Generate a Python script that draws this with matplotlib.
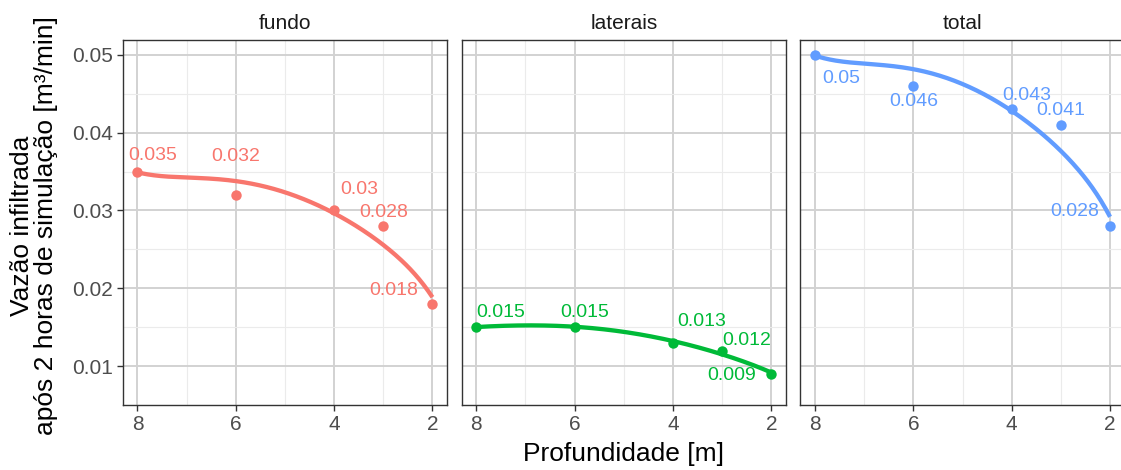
import numpy as np
import matplotlib
matplotlib.use("Agg")
import matplotlib.pyplot as plt
from matplotlib.ticker import MultipleLocator

plt.rcParams["font.family"] = ["Liberation Sans", "DejaVu Sans"]

# --- data -------------------------------------------------------------
profundidade = [8, 6, 4, 3, 2]
facetas = ["fundo", "laterais", "total"]
vazao_fundo = [0.035, 0.032, 0.030, 0.028, 0.018]
vazao_laterais = [0.015, 0.015, 0.013, 0.012, 0.009]
vazao_total = [0.050, 0.046, 0.043, 0.041, 0.028]
cores = ["#F8766D", "#00BA38", "#619CFF"]

# label offsets in pixels (dx, dy) for each point of each facet
deslocamentos = {
    "fundo":    [(15, 16), (0, 38), (25, 21), (0, 14), (-39, 13)],
    "laterais": [(24, 15), (10, 15), (29, 21), (25, 10), (-40, -2)],
    "total":    [(26, -24), (0, -16), (15, 14), (0, 14), (-35, 15)],
}


def loess(x, y, xs, alcance=1.1):
    """Local quadratic regression with tricube weights (fixed bandwidth)."""
    x = np.asarray(x, float)
    y = np.asarray(y, float)
    n = len(x)
    h = (x.max() - x.min()) * alcance
    out = np.empty(len(xs))
    for k, x0 in enumerate(xs):
        d = np.abs(x - x0)
        w = np.clip(1 - (d / h) ** 3, 0, None) ** 3
        X = np.column_stack([np.ones(n), x - x0, (x - x0) ** 2])
        sw = np.sqrt(w)
        beta = np.linalg.lstsq(X * sw[:, None], y * sw, rcond=None)[0]
        out[k] = beta[0]
    return out


series = [vazao_fundo, vazao_laterais, vazao_total]

W_PX, H_PX = 1121, 470
fig = plt.figure(figsize=(W_PX / 100, H_PX / 100), dpi=100)

paineis_x = [122.7, 461.5, 800.3]
largura = 324.5
topo, base = 40, 405

for i, (nome, vals, cor) in enumerate(zip(facetas, series, cores)):
    ax = fig.add_axes([paineis_x[i] / W_PX, (H_PX - base) / H_PX,
                       largura / W_PX, (base - topo) / H_PX])
    ax.set_xlim(8.3, 1.7)
    ax.set_ylim(0.005, 0.0519)
    ax.xaxis.set_minor_locator(MultipleLocator(1))
    ax.yaxis.set_minor_locator(MultipleLocator(0.005))
    ax.grid(which="major", color="#d2d2d2", linewidth=1.4)
    ax.grid(which="minor", color="#ebebeb", linewidth=0.8)
    ax.set_axisbelow(True)
    for s in ax.spines.values():
        s.set_color("#333333")
        s.set_linewidth(1.0)
    ax.tick_params(which="major", length=4, width=1.0, color="#333333",
                   labelsize=15, labelcolor="#4d4d4d", pad=3)
    ax.tick_params(which="minor", length=0)
    ax.set_xticks([8, 6, 4, 2])
    ax.set_xticklabels(["8", "6", "4", "2"])
    ax.set_yticks([0.01, 0.02, 0.03, 0.04, 0.05])
    if i == 0:
        ax.set_yticklabels(["0.01", "0.02", "0.03", "0.04", "0.05"])
    else:
        ax.tick_params(axis="y", which="both", left=False, labelleft=False)

    xs = np.linspace(min(profundidade), max(profundidade), 200)
    ys = loess(profundidade, vals, xs)
    ax.plot(xs, ys, color=cor, linewidth=3.1, solid_capstyle="butt", zorder=3)
    ax.plot(profundidade, vals, "o", color=cor, markersize=7.5,
            markeredgewidth=0, zorder=4)
    for (xv, yv), (dx, dy) in zip(zip(profundidade, vals), deslocamentos[nome]):
        ax.annotate(f"{yv:g}", (xv, yv), xytext=(dx, dy),
                    textcoords="offset pixels", ha="center", va="center",
                    color=cor, fontsize=14, zorder=5)
    ax.set_title(nome, fontsize=15, color="#1a1a1a", pad=8)

fig.text((122.7 + 1125) / 2 / W_PX, 1 - 454 / H_PX, "Profundidade [m]",
         ha="center", va="center", fontsize=19, color="black")
fig.text(34 / W_PX, 1 - 226 / H_PX,
         "Vazão infiltrada\napós 2 horas de simulação [m³/min]",
         ha="center", va="center", rotation=90, fontsize=19,
         color="black", linespacing=1.0)

fig.savefig("out.png", dpi=100)
